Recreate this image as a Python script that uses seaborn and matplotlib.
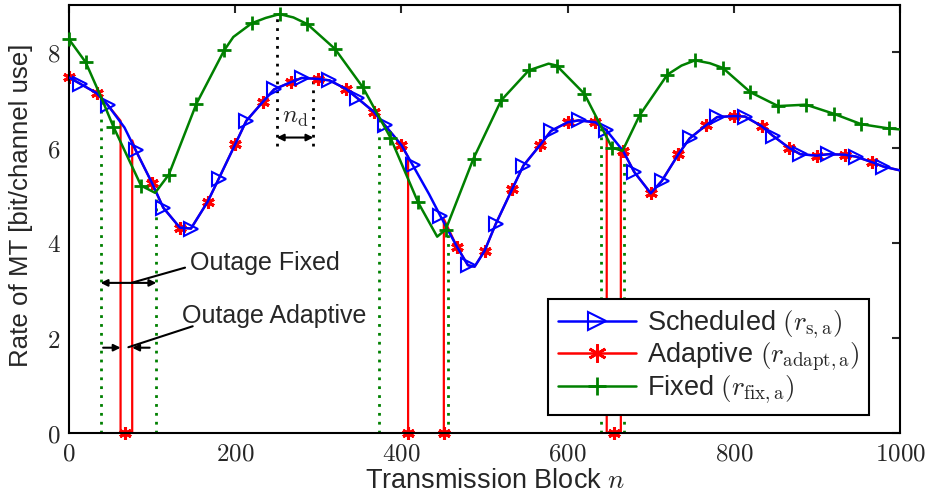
import numpy as np
import pandas as pd
import matplotlib
matplotlib.use("Agg")
import matplotlib.pyplot as plt
from matplotlib.lines import Line2D
from matplotlib.ticker import FuncFormatter
import seaborn as sns

# ---------------- data ----------------
sched_x = [0, 13.3, 33.3, 46.7, 66.7, 80, 100, 113.3, 133.3, 146.7, 166.7, 180, 200, 213.3,
           233.3, 246.7, 266.7, 280, 300, 313.3, 333.3, 346.7, 366.7, 380, 400, 413.3, 433.3,
           446.7, 466.7, 480, 488, 500, 513.3, 533.3, 546.7, 566.7, 580, 600, 613.3, 633.3,
           646.7, 666.7, 680, 700, 713.3, 733.3, 746.7, 766.7, 780, 800, 813.3, 833.3, 846.7,
           866.7, 880, 900, 913.3, 933.3, 946.7, 966.7, 980, 1000]
sched_y = [7.47, 7.34, 7.14, 6.89, 6.42, 5.95, 5.25, 4.74, 4.32, 4.30, 4.86, 5.34, 6.07, 6.56,
           6.96, 7.22, 7.37, 7.46, 7.44, 7.41, 7.23, 7.04, 6.75, 6.47, 6.05, 5.64, 5.02,
           4.57, 3.92, 3.53, 3.50, 3.83, 4.39, 5.13, 5.62, 6.05, 6.35, 6.53, 6.57, 6.53,
           6.36, 5.93, 5.49, 5.04, 5.30, 5.86, 6.19, 6.47, 6.64, 6.66, 6.65, 6.45, 6.25,
           5.99, 5.86, 5.83, 5.86, 5.85, 5.81, 5.69, 5.60, 5.52]

fixed_x = [0, 20, 38, 53.3, 86.7, 103.6, 120, 153.3, 186.7, 197.7, 220, 236.7, 253.3, 270,
           286.7, 320, 353.3, 386.7, 420, 443, 453.3, 486.7, 520, 553.3, 577, 586.7, 620,
           653.3, 666, 686.7, 720, 737, 753.3, 771, 786.7, 820, 853.3, 886.7, 920, 953.3,
           986.7, 1000]
fixed_y = [8.27, 7.79, 7.08, 6.44, 5.20, 5.05, 5.43, 6.92, 8.04, 8.32, 8.61, 8.72, 8.80, 8.73,
           8.59, 8.07, 7.27, 6.21, 4.85, 4.13, 4.28, 5.77, 6.99, 7.62, 7.76, 7.72, 7.13,
           6.00, 5.93, 6.68, 7.53, 7.72, 7.83, 7.77, 7.67, 7.16, 6.87, 6.90, 6.71, 6.49,
           6.40, 6.38]

# adaptive outages (rate drops to 0)
adapt_out_start = [62, 408, 647]
adapt_out_end = [76, 451, 664]
adapt_start_y = [6.56, 5.80, 6.38]
adapt_end_y = [6.15, 4.50, 5.95]

# fixed outages (green dotted borders of the intervals)
fixed_out_x = [38, 105, 373, 456, 640, 668]
fixed_out_top = [7.05, 5.04, 6.65, 4.30, 6.42, 5.93]

# marker positions
tri_x = [13.3, 46.7, 80, 113.3, 146.7, 180, 213.3, 246.7, 280, 313.3, 346.7, 380, 413.3,
         446.7, 480, 513.3, 546.7, 580, 613.3, 646.7, 680, 713.3, 746.7, 780, 813.3, 846.7,
         880, 913.3, 946.7, 980]
star_x = [0, 33.3, 100, 133.3, 166.7, 200, 233.3, 266.7, 300, 333.3, 366.7, 400, 466.7, 500,
          533.3, 566.7, 600, 633.3, 666.7, 700, 733.3, 766.7, 800, 833.3, 866.7, 900, 933.3,
          966.7]
star_zero_x = [67, 408, 451, 656]
plus_x = [0, 20, 53.3, 86.7, 120, 153.3, 186.7, 220, 253.3, 286.7, 320, 353.3, 386.7, 420,
          453.3, 486.7, 520, 553.3, 586.7, 620, 653.3, 686.7, 720, 753.3, 786.7, 820, 853.3,
          886.7, 920, 953.3, 986.7]

xticks = [0, 200, 400, 600, 800, 1000]
yticks = [0, 2, 4, 6, 8]

# ---------------- build series ----------------
sched_map = dict(zip(sched_x, sched_y))
fixed_map = dict(zip(fixed_x, fixed_y))

ax_x, ax_y = [], []
for xv, yv in zip(sched_x, sched_y):
    inside = any(s <= xv <= e for s, e in zip(adapt_out_start, adapt_out_end))
    for s, e, ys, ye in zip(adapt_out_start, adapt_out_end, adapt_start_y, adapt_end_y):
        if ax_x and ax_x[-1] < s <= xv:
            ax_x += [s, s, e, e]
            ax_y += [ys, 0, 0, ye]
    if not inside:
        ax_x.append(xv)
        ax_y.append(yv)
adapt_df = pd.DataFrame({"n": ax_x, "r": ax_y})
sched_df = pd.DataFrame({"n": sched_x, "r": sched_y})
fixed_df = pd.DataFrame({"n": fixed_x, "r": fixed_y})

tri_df = pd.DataFrame({"n": tri_x, "r": [sched_map[v] for v in tri_x]})
star_df = pd.DataFrame({"n": star_x + star_zero_x,
                        "r": [sched_map[v] for v in star_x] + [0] * len(star_zero_x)})
plus_df = pd.DataFrame({"n": plus_x, "r": [fixed_map[v] for v in plus_x]})

# ---------------- style ----------------
sns.set_style("white")
plt.rcParams["font.family"] = ["Liberation Sans", "DejaVu Sans"]
plt.rcParams["mathtext.fontset"] = "cm"

BLUE = (0, 0, 1)
RED = (1, 0, 0)
GREEN = (0, 0.5, 0)
FS_ANN = 18
FS_LEG = 19.5

fig = plt.figure(figsize=(9.28, 4.97), dpi=100)
ax = fig.add_axes([0.0744, 0.1278, 0.8955, 0.863])

# green dotted outage borders (fixed)
for xv, top in zip(fixed_out_x, fixed_out_top):
    ax.plot([xv, xv], [0, top], color=GREEN, ls=(0, (1, 2.2)), lw=2, zorder=1)

# adaptive (red) line + markers, under the blue one
sns.lineplot(data=adapt_df, x="n", y="r", sort=False, estimator=None, ax=ax,
             color=RED, lw=1.6, zorder=2)
ax.plot(star_df["n"], star_df["r"], ls="none", marker=(6, 2, 0), ms=9, mew=2.2,
        color=RED, zorder=2, clip_on=False)

# scheduled (blue)
sns.lineplot(data=sched_df, x="n", y="r", sort=False, estimator=None, ax=ax,
             color=BLUE, lw=1.8, zorder=3)
ax.plot(tri_df["n"], tri_df["r"], ls="none", marker=">", ms=10, mew=1.5,
        mfc="none", mec=BLUE, zorder=3)

# fixed (green)
sns.lineplot(data=fixed_df, x="n", y="r", sort=False, estimator=None, ax=ax,
             color=GREEN, lw=1.8, zorder=4)
ax.plot(plus_df["n"], plus_df["r"], ls="none", marker="+", ms=10, mew=2,
        color=GREEN, zorder=4, clip_on=False)

# n_d annotation
ax.plot([250, 250], [6.04, 8.81], color="black", ls=(0, (1, 2.2)), lw=2, zorder=1.5)
ax.plot([294, 294], [6.04, 7.44], color="black", ls=(0, (1, 2.2)), lw=2, zorder=1.5)
ax.annotate("", xy=(250, 6.21), xytext=(294, 6.21),
            arrowprops=dict(arrowstyle="<|-|>", color="black", lw=1.5,
                            mutation_scale=10, shrinkA=0, shrinkB=0))
ax.text(272, 6.65, r"$n_{\mathrm{d}}$", fontsize=FS_ANN, ha="center", va="center")

# Outage Fixed annotation
ax.annotate("", xy=(38, 3.16), xytext=(105, 3.16),
            arrowprops=dict(arrowstyle="<|-|>", color="black", lw=1.5,
                            mutation_scale=10, shrinkA=0, shrinkB=0))
ax.plot([75, 139.6], [3.16, 3.48], color="black", lw=1.5)
ax.text(145, 3.58, "Outage Fixed", fontsize=FS_ANN, ha="left", va="center")

# Outage Adaptive annotation
ax.annotate("", xy=(62, 1.80), xytext=(41, 1.80),
            arrowprops=dict(arrowstyle="-|>", color="black", lw=1.5,
                            mutation_scale=10, shrinkA=0, shrinkB=0))
ax.annotate("", xy=(76, 1.80), xytext=(97, 1.80),
            arrowprops=dict(arrowstyle="-|>", color="black", lw=1.5,
                            mutation_scale=10, shrinkA=0, shrinkB=0))
ax.plot([71.4, 148.8], [1.81, 2.25], color="black", lw=1.5)
ax.text(136, 2.47, "Outage Adaptive", fontsize=FS_ANN, ha="left", va="center")

# axes
ax.set_xlim(0, 1000)
ax.set_ylim(0, 9)
ax.set_xticks(xticks)
ax.set_yticks(yticks)
fmt = FuncFormatter(lambda v, p: r"$%d$" % v)
ax.xaxis.set_major_formatter(fmt)
ax.yaxis.set_major_formatter(fmt)
ax.tick_params(direction="in", length=6, width=1.5, labelsize=18,
               top=True, right=True, pad=6)
for sp in ax.spines.values():
    sp.set_linewidth(1.5)
    sp.set_color("black")
ax.set_xlabel(r"Transmission Block $n$", fontsize=19.5)
ax.set_ylabel("Rate of MT [bit/channel use]", fontsize=18.6)
ax.xaxis.set_label_coords(0.5126, -0.080)
ax.yaxis.set_label_coords(-0.0433, 0.533)

handles = [
    Line2D([], [], color=BLUE, lw=1.8, marker=">", ms=13, mfc="none", mew=1.5),
    Line2D([], [], color=RED, lw=1.8, marker=(6, 2, 0), ms=13, mew=2),
    Line2D([], [], color=GREEN, lw=1.8, marker="+", ms=13, mew=2),
]
labels = [r"Scheduled $(r_{\mathrm{s,a}})$",
          r"Adaptive $(r_{\mathrm{adapt,a}})$",
          r"Fixed $(r_{\mathrm{fix,a}})$"]
leg = ax.legend(handles, labels, loc="lower right", bbox_to_anchor=(0.963, 0.043),
                fontsize=FS_LEG, frameon=True, fancybox=False, framealpha=1,
                edgecolor="black", handlelength=2.9, labelspacing=0.0,
                borderpad=0.35, handletextpad=0.4, borderaxespad=0)
leg.get_frame().set_linewidth(1.5)

fig.savefig("out.png", dpi=100)
